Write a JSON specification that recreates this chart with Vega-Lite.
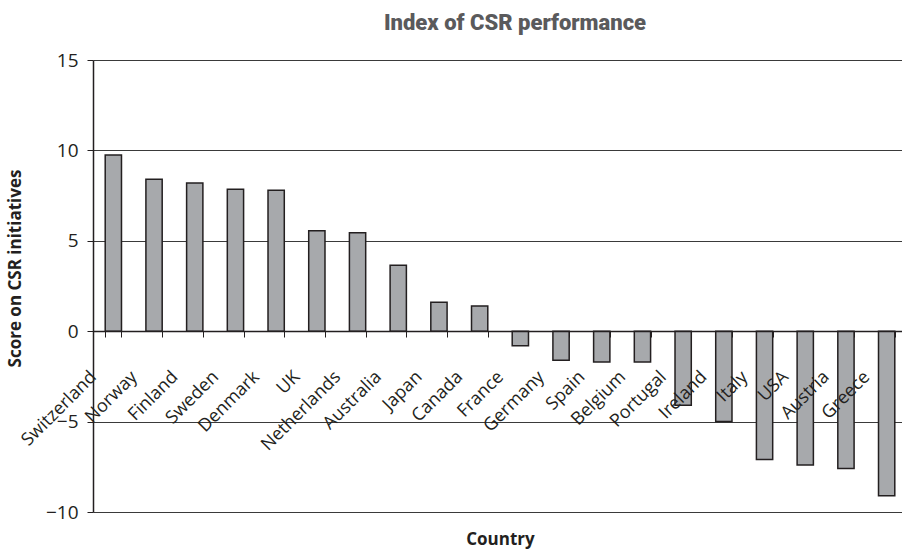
{
  "$schema": "https://vega.github.io/schema/vega-lite/v6.json",
  "autosize": "none",
  "width": 814,
  "height": 452,
  "padding": {"left": 93, "top": 60, "right": 0, "bottom": 40},
  "background": "white",
  "title": {
    "text": "Index of CSR performance",
    "font": "Roboto",
    "fontSize": 22,
    "fontWeight": 900,
    "color": "#5a5a5c",
    "anchor": "middle",
    "dx": 15,
    "offset": 16
  },
  "data": {
    "values": [
      {"country": "Switzerland", "score": 9.75},
      {"country": "Norway", "score": 8.4},
      {"country": "Finland", "score": 8.2},
      {"country": "Sweden", "score": 7.85},
      {"country": "Denmark", "score": 7.8},
      {"country": "UK", "score": 5.55},
      {"country": "Netherlands", "score": 5.45},
      {"country": "Australia", "score": 3.65},
      {"country": "Japan", "score": 1.6},
      {"country": "Canada", "score": 1.4},
      {"country": "France", "score": -0.8},
      {"country": "Germany", "score": -1.6},
      {"country": "Spain", "score": -1.7},
      {"country": "Belgium", "score": -1.7},
      {"country": "Portugal", "score": -4.1},
      {"country": "Ireland", "score": -5.0},
      {"country": "Italy", "score": -7.1},
      {"country": "USA", "score": -7.4},
      {"country": "Austria", "score": -7.6},
      {"country": "Greece", "score": -9.1}
    ]
  },
  "mark": {
    "type": "bar",
    "fill": "#a7a9ac",
    "stroke": "#231f20",
    "strokeWidth": 1.5
  },
  "encoding": {
    "x": {
      "field": "country",
      "type": "nominal",
      "sort": null,
      "scale": {"paddingInner": 0.6, "paddingOuter": 0.3},
      "axis": {
        "zindex": 1,
        "title": "Country",
        "titleFont": "Open Sans",
        "titleFontSize": 17,
        "titleFontWeight": "bold",
        "titleColor": "#231f20",
        "titleX": 407,
        "titleY": 208,
        "titleBaseline": "middle",
        "titleAlign": "center",
        "offset": -181,
        "domain": true,
        "domainColor": "#231f20",
        "domainWidth": 1.5,
        "ticks": true,
        "tickBand": "extent",
        "tickSize": 6,
        "tickColor": "#231f20",
        "tickWidth": 1,
        "labelAngle": -45,
        "labelAlign": "right",
        "labelBaseline": "middle",
        "labelOffset": -20,
        "labelPadding": 37,
        "labelFont": "Open Sans",
        "labelFontSize": 18,
        "labelColor": "#231f20",
        "labelOverlap": false,
        "grid": false
      }
    },
    "y": {
      "field": "score",
      "type": "quantitative",
      "scale": {"domain": [-10, 15], "nice": false, "zero": false},
      "axis": {
        "title": "Score on CSR initiatives",
        "titleFont": "Open Sans",
        "titleFontSize": 17,
        "titleFontWeight": "bold",
        "titleColor": "#231f20",
        "titleX": -78,
        "titleY": 208,
        "titleAngle": -90,
        "titleAlign": "center",
        "titleBaseline": "middle",
        "values": [-10, -5, 0, 5, 10, 15],
        "domain": true,
        "domainColor": "#231f20",
        "domainWidth": 1.5,
        "tickSize": 6,
        "tickColor": "#231f20",
        "labelPadding": 9,
        "labelFont": "Open Sans",
        "labelFontSize": 19,
        "labelColor": "#231f20",
        "grid": true,
        "gridColor": "#3a3a3a",
        "gridWidth": 1
      }
    }
  },
  "config": {
    "view": {"stroke": null}
  }
}
